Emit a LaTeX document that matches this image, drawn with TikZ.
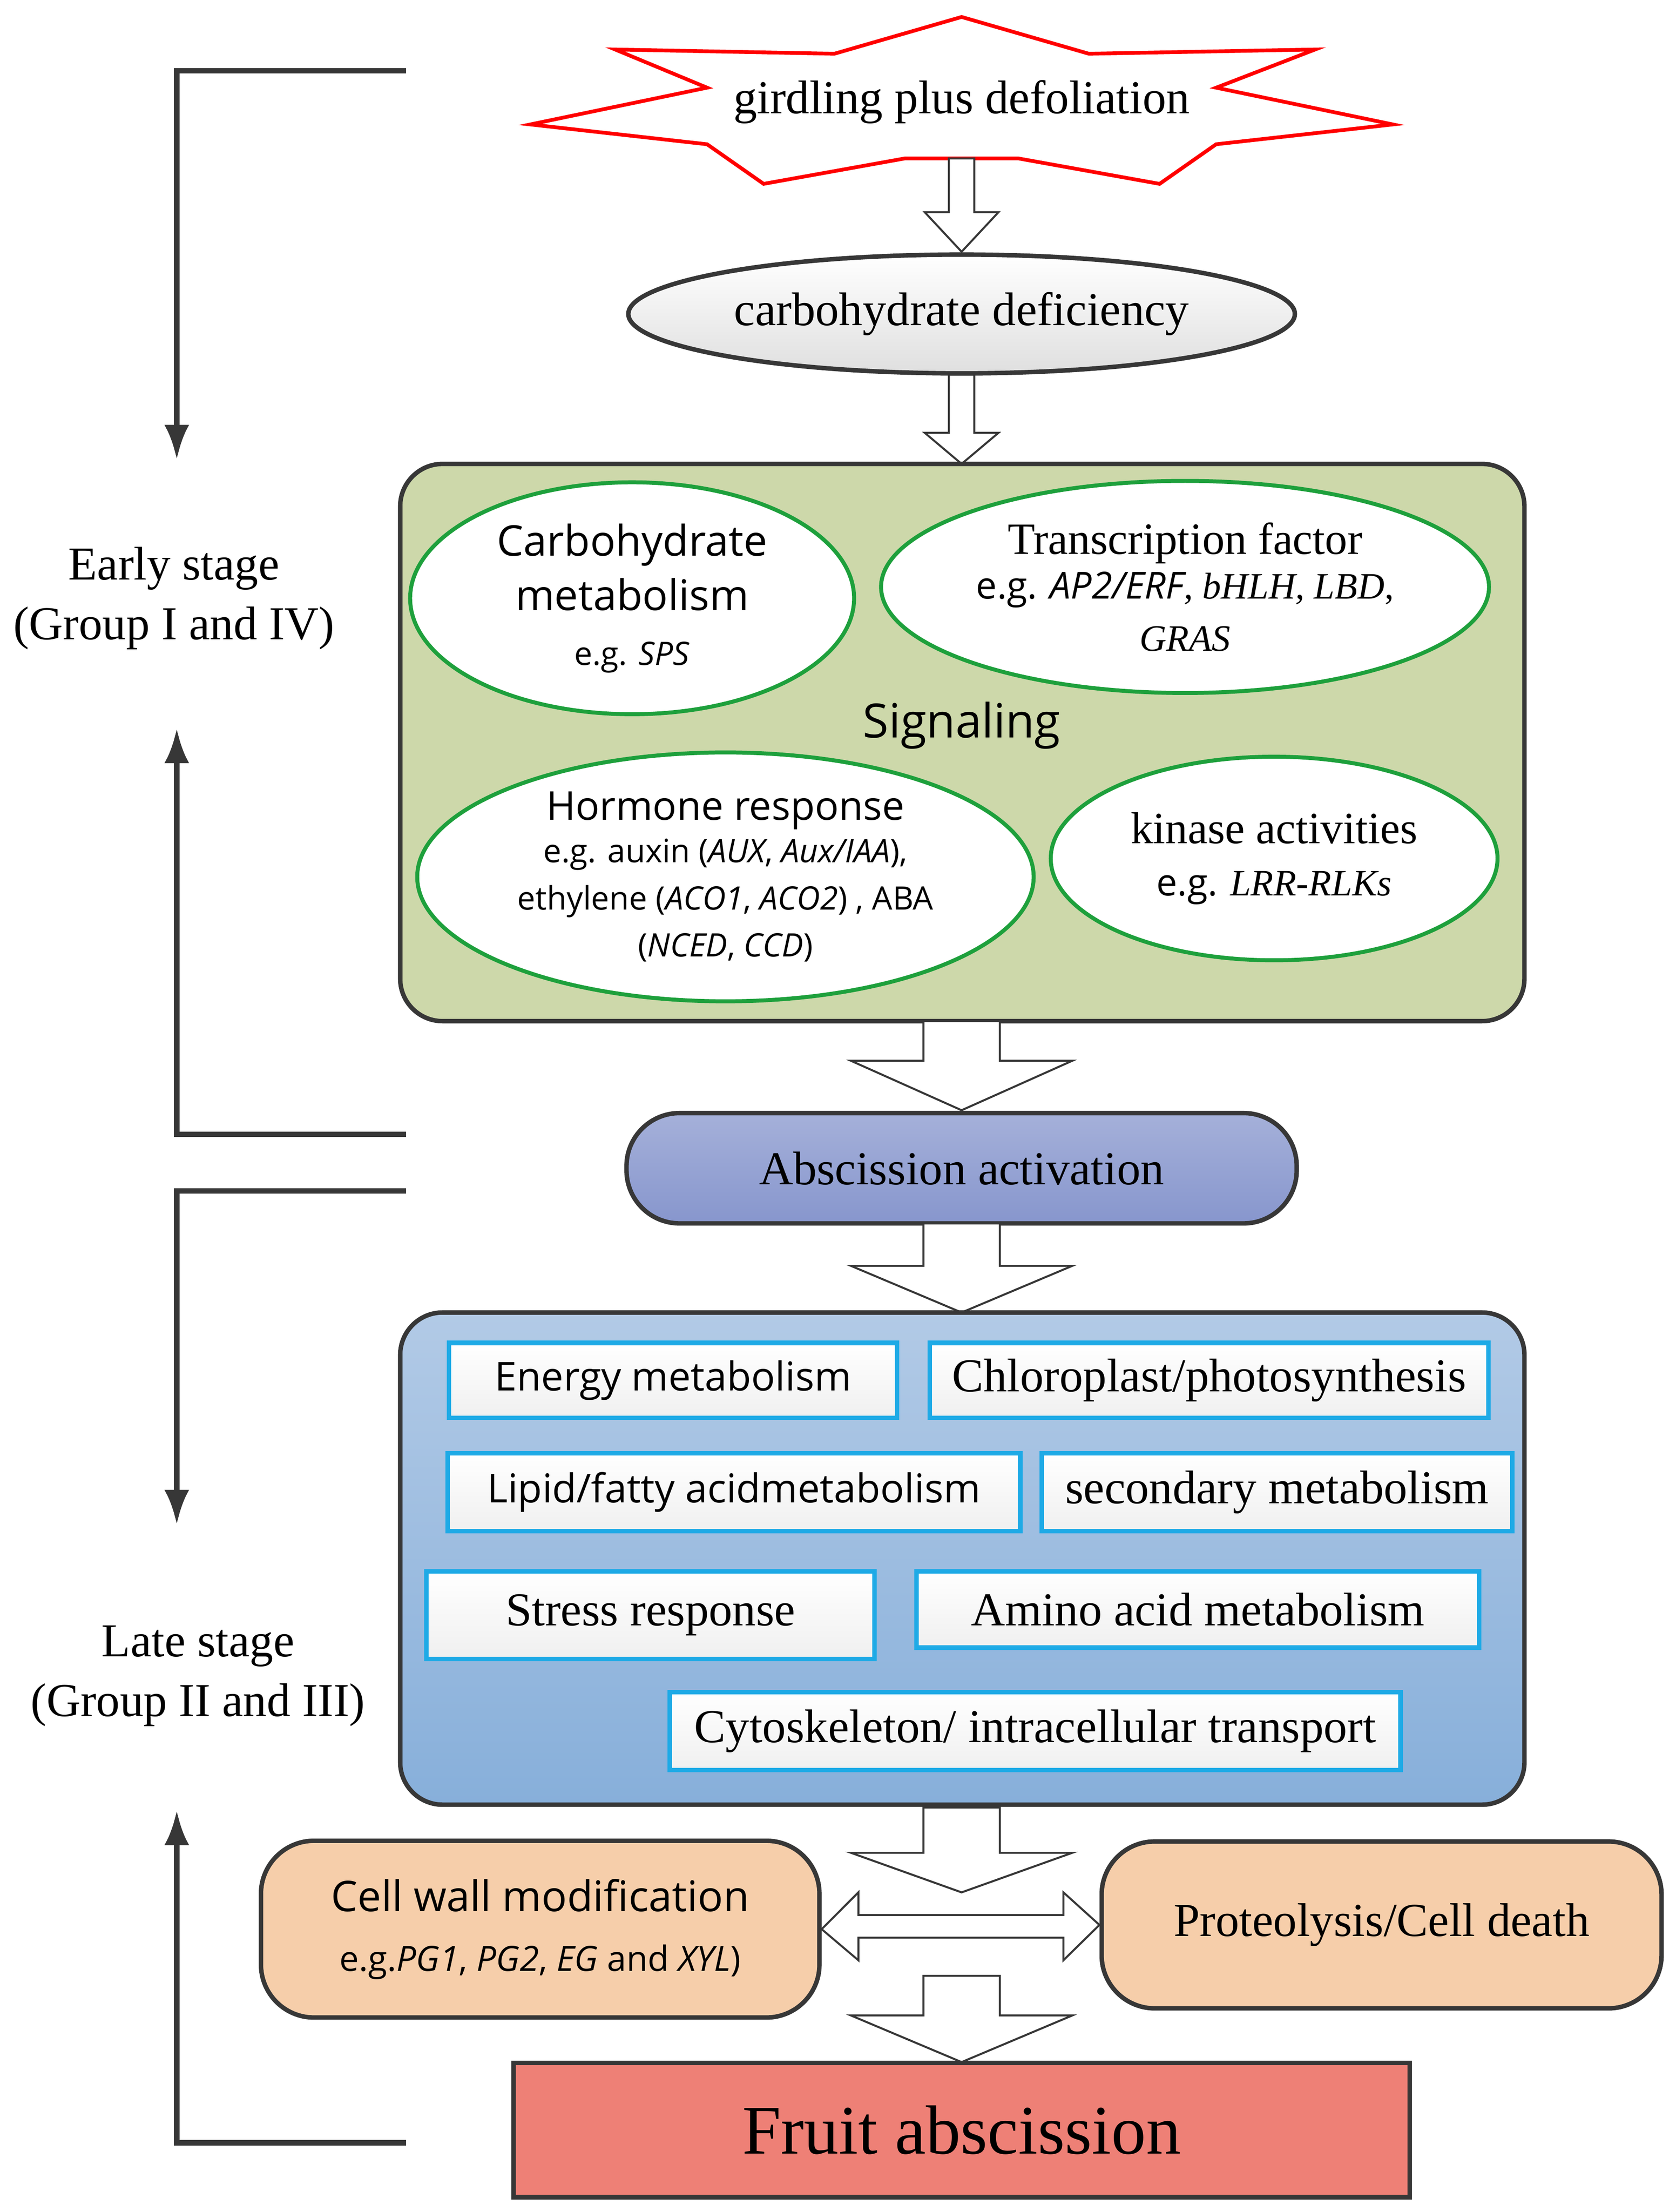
\documentclass[tikz,border=0pt]{standalone}
\usepackage{fontspec}
\setmainfont{Liberation Serif}
\setsansfont{Open Sans}
\usetikzlibrary{shapes.geometric,arrows.meta}
\definecolor{gbox}{RGB}{205,216,170}
\definecolor{gedge}{RGB}{30,160,60}
\definecolor{cyanb}{RGB}{30,170,230}
\definecolor{abs}{RGB}{135,150,205}
\definecolor{peach}{RGB}{246,206,170}
\definecolor{salmon}{RGB}{238,128,118}
\definecolor{dk}{RGB}{55,55,55}
\definecolor{lb1}{RGB}{178,202,230}
\definecolor{lb2}{RGB}{135,175,218}
\tikzset{
 x=0.02cm,y=-0.02cm,
 ell/.style={draw=gedge,line width=1.6pt,ellipse,fill=white,inner sep=-4pt,align=center},
 wbox/.style={draw=cyanb,line width=1.8pt,fill=white,inner sep=0pt,top color=white,bottom color=gray!12},
 fat/.style={draw=dk,line width=0.8pt,fill=white},
 brk/.style={draw=dk,line width=2.2pt,-{Latex[length=14pt,width=10pt]}},
 t/.style={font=\fontsize{19}{23}\selectfont,align=center},
 s/.style={font=\sffamily\fontsize{16}{19}\selectfont,align=center},
}
\newcommand{\fatarr}[5]{%
 \draw[fat] ({#1-#4},#2) -- ({#1+#4},#2) -- ({#1+#4},#5) -- ({#1+2.9*#4},#5) -- (#1,#3) -- ({#1-2.9*#4},#5) -- ({#1-#4},#5) -- cycle;}
\begin{document}
\begin{tikzpicture}
\useasboundingbox (0,0) rectangle (1185,1564);
\fill[white] (0,0) rectangle (1185,1564);
\draw[red,line width=1.5pt,fill=white] (375,88) -- (500,62) -- (435,35) -- (590,38) -- (680,12) -- (770,38) -- (930,35) -- (860,62) -- (985,88) -- (860,102) -- (820,130) -- (720,112) -- (680,112) -- (640,112) -- (540,130) -- (500,102) -- cycle;
\node[t] (gird) at (680,72) {girdling plus defoliation};
\fatarr{680}{112}{178}{9}{150}
\node[draw=dk,line width=1.8pt,ellipse,minimum width=9.4cm,minimum height=1.68cm,top color=white,bottom color=gray!25,t] (cd) at (680,222) {carbohydrate deficiency};
\fatarr{680}{265}{328}{9}{306}
\draw[draw=dk,line width=1.8pt,fill=gbox,rounded corners=0.6cm] (283,328) rectangle (1078,722);
\node[ell,minimum width=6.28cm,minimum height=3.28cm,font=\sffamily\fontsize{17}{22}\selectfont] (cm) at (447,423) {Carbohydrate\\ metabolism\\ {\fontsize{13}{17}\selectfont e.g. \textit{SPS}}};
\node[ell,minimum width=8.6cm,minimum height=3.0cm,font=\fontsize{18}{20}\selectfont] (tf) at (838,415) {Transcription factor\\[-2pt] {\fontsize{15}{18}\selectfont{\sffamily e.g.} \textit{{\sffamily AP2/ERF}, bHLH, LBD},}\\[1pt] {\fontsize{15}{18}\selectfont\textit{GRAS}}};
\node[ell,minimum width=8.72cm,minimum height=3.52cm,font=\sffamily\fontsize{13}{16}\selectfont] (hr) at (513,620) {{\fontsize{16}{19}\selectfont Hormone response}\\[1pt] e.g. auxin (\textit{AUX}, \textit{Aux/IAA}),\\[3pt] ethylene (\textit{ACO1}, \textit{ACO2}) , ABA\\[3pt] (\textit{NCED}, \textit{CCD})};
\node[ell,minimum width=6.32cm,minimum height=2.88cm,font=\fontsize{18}{21}\selectfont] (ka) at (901,607) {kinase activities\\[0pt] {\fontsize{15}{18}\selectfont{\sffamily e.g.} \textit{LRR-RLKs}}};
\node[font=\sffamily\fontsize{19}{22}\selectfont] (sig) at (680,513) {Signaling};
\fatarr{680}{722}{785}{27}{750}
\node[draw=dk,line width=1.8pt,rounded corners=0.75cm,top color=abs!75,bottom color=abs,minimum width=9.48cm,minimum height=1.56cm,t] (aa) at (680,826) {Abscission activation};
\fatarr{680}{865}{928}{27}{895}
\draw[draw=dk,line width=1.8pt,top color=lb1,bottom color=lb2,rounded corners=0.6cm] (283,928) rectangle (1078,1276);
\node[wbox,minimum width=6.34cm,minimum height=1.06cm,s] (em) at (476,976) {Energy metabolism};
\node[wbox,minimum width=7.9cm,minimum height=1.06cm,t] (ch) at (855,976) {Chloroplast/photosynthesis};
\node[wbox,minimum width=8.1cm,minimum height=1.1cm,s] (lf) at (519,1055) {Lipid/fatty acidmetabolism};
\node[wbox,minimum width=6.66cm,minimum height=1.1cm,t] (sm) at (903,1055) {secondary metabolism};
\node[wbox,minimum width=6.34cm,minimum height=1.24cm,t] (sr) at (460,1142) {Stress response};
\node[wbox,minimum width=7.96cm,minimum height=1.08cm,t] (am) at (847,1138) {Amino acid metabolism};
\node[wbox,minimum width=10.34cm,minimum height=1.1cm,t] (cy) at (732,1224) {Cytoskeleton/ intracellular transport};
\fatarr{680}{1278}{1338}{27}{1310}
\node[draw=dk,line width=1.8pt,fill=peach,rounded corners=0.75cm,minimum width=7.9cm,minimum height=2.5cm,align=center,inner sep=0pt,font=\sffamily\fontsize{17}{20}\selectfont] (cw) at (382,1364) {Cell wall modification\\[4pt] {\fontsize{14}{17}\selectfont e.g.\textit{PG1}, \textit{PG2}, \textit{EG} and \textit{XYL})}};
\node[draw=dk,line width=1.8pt,fill=peach,rounded corners=0.75cm,minimum width=7.92cm,minimum height=2.36cm,t] (pc) at (977,1361) {Proteolysis/Cell death};
\draw[fat] (cw.east) -- (607,1338) -- (607,1354) -- (752,1354) -- (752,1338) -- (pc.west) -- (752,1386) -- (752,1370) -- (607,1370) -- (607,1386) -- cycle;
\fatarr{680}{1397}{1458}{27}{1425}
\node[draw=dk,line width=1.8pt,fill=salmon,minimum width=12.68cm,minimum height=1.9cm,font=\fontsize{28}{32}\selectfont] (fa) at (680,1506) {Fruit abscission};
\coordinate (b1) at (287,50); \coordinate (b1e) at (125,325);
\draw[brk] (b1) -- (125,50) -- (b1e);
\coordinate (b2) at (287,802); \coordinate (b2e) at (125,515);
\draw[brk] (b2) -- (125,802) -- (b2e);
\coordinate (b3) at (287,842); \coordinate (b3e) at (125,1078);
\draw[brk] (b3) -- (125,842) -- (b3e);
\coordinate (b4) at (287,1515); \coordinate (b4e) at (125,1280);
\draw[brk] (b4) -- (125,1515) -- (b4e);
\node[align=center,font=\fontsize{19}{24}\selectfont] (es) at (123,423) {Early stage\\(Group I and IV)};
\node[align=center,font=\fontsize{19}{24}\selectfont] (ls) at (140,1185) {Late stage\\(Group II and III)};
\end{tikzpicture}
\end{document}
